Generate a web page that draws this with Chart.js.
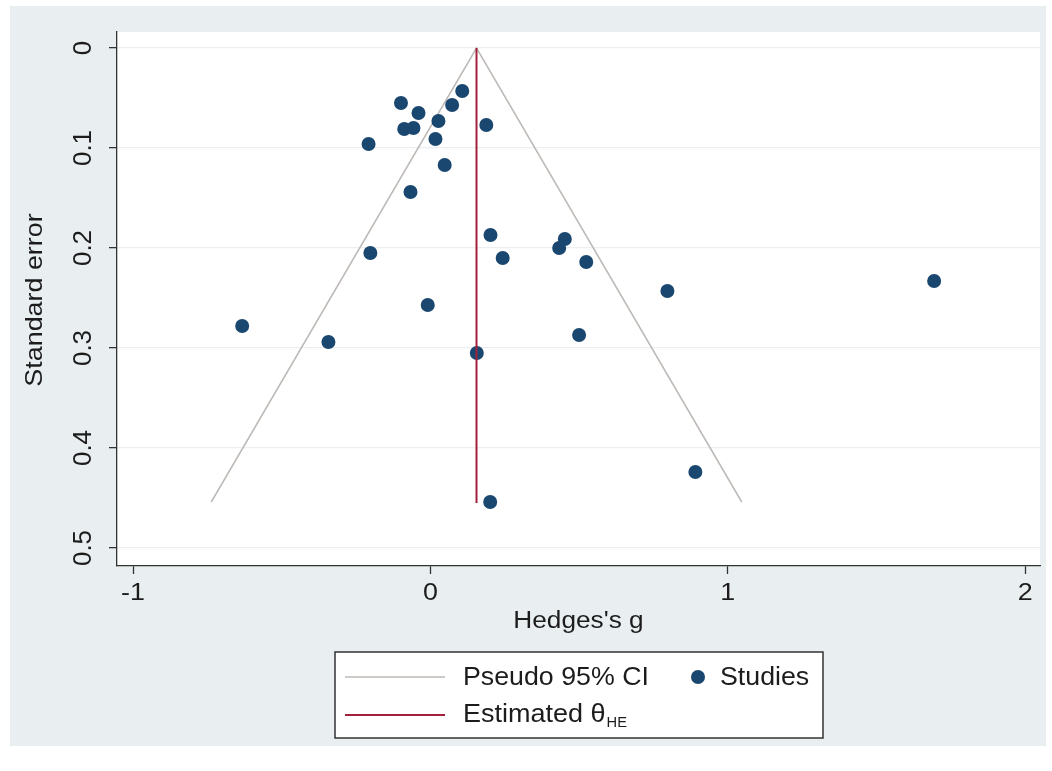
<!DOCTYPE html>
<html>
<head>
<meta charset="utf-8">
<script src="https://cdn.jsdelivr.net/npm/chart.js@4.4.0/dist/chart.umd.min.js"></script>
<style>
  html, body { margin: 0; padding: 0; background: #fff; }
  #wrap { width: 1052px; height: 771px; }
</style>
</head>
<body>
<div id="wrap"><canvas id="chart-funnel" width="1052" height="771"></canvas></div>
<script>
// Studies (Hedges's g vs standard error)
const hedgesG = [-0.099, -0.040, 0.107, 0.073, 0.027, -0.088, -0.057, 0.017, 0.188, 0.048,
                 -0.067, -0.208, 0.202, 0.452, 0.433, 0.243, 0.524, 0.797, 1.694, -0.009,
                 -0.202, -0.633, -0.343, 0.156, 0.500, 0.891, 0.201];
const stdErr  = [0.055, 0.065, 0.043, 0.057, 0.073, 0.081, 0.080, 0.091, 0.077, 0.117,
                 0.144, 0.096, 0.187, 0.191, 0.200, 0.210, 0.214, 0.243, 0.233, 0.257,
                 0.205, 0.278, 0.294, 0.305, 0.287, 0.424, 0.454];

// Pseudo 95% CI funnel (left bottom, apex, right bottom)
const ciX = [-0.737, 0.155, 1.047];
const ciY = [0.454, 0, 0.454];

// Estimated theta line
const thetaX = [0.155, 0.155];
const thetaY = [0, 0.455];

const xTicks = [-1, 0, 1, 2];
const xTickLabels = ['-1', '0', '1', '2'];
const yTicks = [0, 0.1, 0.2, 0.3, 0.4, 0.5];
const yTickLabels = ['0', '0.1', '0.2', '0.3', '0.4', '0.5'];

const xTitle = "Hedges's g";
const yTitle = 'Standard error';
const legendLabels = ['Pseudo 95% CI', 'Studies', 'Estimated θ'];
const legendSub = 'HE';

const FONT = "'Liberation Sans', Arial, sans-serif";
const TEXT = '#1c1c1c';
const NAVY = '#1a476f';
const CI_COLOR = '#bdb9b6';
const THETA_COLOR = '#a3213d';

const toPoints = (xs, ys) => xs.map((x, i) => ({ x: x, y: ys[i] }));

// text a bit wider than the plain font, like the Stata export
function drawText(ctx, text, x, y, size, stretch, rotated, align) {
  ctx.save();
  ctx.translate(x, y);
  if (rotated) ctx.rotate(-Math.PI / 2);
  ctx.scale(stretch, 1);
  ctx.font = size + 'px ' + FONT;
  ctx.textAlign = align || 'center';
  ctx.textBaseline = 'middle';
  ctx.fillText(text, 0, 0);
  const w = ctx.measureText(text).width * stretch;
  ctx.restore();
  return w;
}

const stataLook = {
  id: 'stataLook',
  beforeDraw(chart) {
    const ctx = chart.ctx;
    const a = chart.chartArea;
    ctx.save();
    ctx.fillStyle = '#ffffff';
    ctx.fillRect(0, 0, chart.width, chart.height);
    ctx.fillStyle = '#e9eff1';
    ctx.fillRect(10, 6, 1036, 740);
    ctx.fillStyle = '#ffffff';
    ctx.fillRect(a.left, a.top, a.right - a.left, a.bottom - a.top);
    ctx.restore();
  },
  afterDraw(chart) {
    const ctx = chart.ctx;
    const xs = chart.scales.x;
    const ys = chart.scales.y;
    ctx.save();
    ctx.fillStyle = TEXT;

    // axis labels
    xTicks.forEach((v, i) => drawText(ctx, xTickLabels[i], xs.getPixelForValue(v), 593, 24, 1.12, false));
    yTicks.forEach((v, i) => drawText(ctx, yTickLabels[i], 84, ys.getPixelForValue(v), 25, 1.04, true));
    drawText(ctx, xTitle, (xs.left + xs.right) / 2, 622, 23, 1.14, false);
    drawText(ctx, yTitle, 35, (ys.top + ys.bottom) / 2 + 1, 24, 1.12, true);

    // legend box
    ctx.fillStyle = '#ffffff';
    ctx.fillRect(335, 652, 488, 86);
    ctx.strokeStyle = '#333333';
    ctx.lineWidth = 1.5;
    ctx.strokeRect(335, 652, 488, 86);

    ctx.lineWidth = 1.5;
    ctx.strokeStyle = CI_COLOR;
    ctx.beginPath(); ctx.moveTo(345, 677); ctx.lineTo(445, 677); ctx.stroke();
    ctx.strokeStyle = THETA_COLOR;
    ctx.lineWidth = 2;
    ctx.beginPath(); ctx.moveTo(345, 715); ctx.lineTo(445, 715); ctx.stroke();
    ctx.fillStyle = NAVY;
    ctx.beginPath(); ctx.arc(698, 677, 7, 0, Math.PI * 2); ctx.fill();

    ctx.fillStyle = TEXT;
    drawText(ctx, legendLabels[0], 463, 678, 25, 1.07, false, 'left');
    drawText(ctx, legendLabels[1], 720, 678, 25, 1.07, false, 'left');
    const w = drawText(ctx, legendLabels[2], 463, 715, 25, 1.08, false, 'left');
    drawText(ctx, legendSub, 463 + w + 1, 723, 14, 1.05, false, 'left');
    ctx.restore();
  }
};

new Chart(document.getElementById('chart-funnel'), {
  type: 'scatter',
  data: {
    datasets: [
      {
        label: legendLabels[2],
        data: toPoints(thetaX, thetaY),
        showLine: true,
        borderColor: THETA_COLOR,
        borderWidth: 2,
        pointRadius: 0,
        order: 0
      },
      {
        label: legendLabels[1],
        data: toPoints(hedgesG, stdErr),
        backgroundColor: NAVY,
        borderColor: NAVY,
        pointRadius: 7,
        pointBorderWidth: 0,
        order: 1
      },
      {
        label: legendLabels[0],
        data: toPoints(ciX, ciY),
        showLine: true,
        borderColor: CI_COLOR,
        borderWidth: 1.5,
        pointRadius: 0,
        order: 2
      }
    ]
  },
  options: {
    responsive: false,
    animation: false,
    devicePixelRatio: 1,
    layout: { padding: { left: 10, top: 32, right: 12, bottom: 131 } },
    plugins: {
      legend: { display: false },
      tooltip: { enabled: false }
    },
    scales: {
      x: {
        type: 'linear',
        min: -1.054,
        max: 2.05,
        afterBuildTicks: (s) => { s.ticks = xTicks.map(v => ({ value: v })); },
        afterFit: (s) => { s.height = 74; },
        grid: { drawOnChartArea: false, tickLength: 8, tickColor: '#333333', tickWidth: 1.3 },
        border: { color: '#333333', width: 1.3 },
        ticks: { display: false }
      },
      y: {
        type: 'linear',
        reverse: true,
        min: -0.016,
        max: 0.518,
        afterBuildTicks: (s) => { s.ticks = yTicks.map(v => ({ value: v })); },
        afterFit: (s) => { s.width = 107; },
        grid: { color: '#eceff1', lineWidth: 1.3, tickLength: 8, tickColor: '#333333', tickWidth: 1.3 },
        border: { color: '#333333', width: 1.3 },
        ticks: { display: false }
      }
    }
  },
  plugins: [stataLook]
});
</script>
</body>
</html>
